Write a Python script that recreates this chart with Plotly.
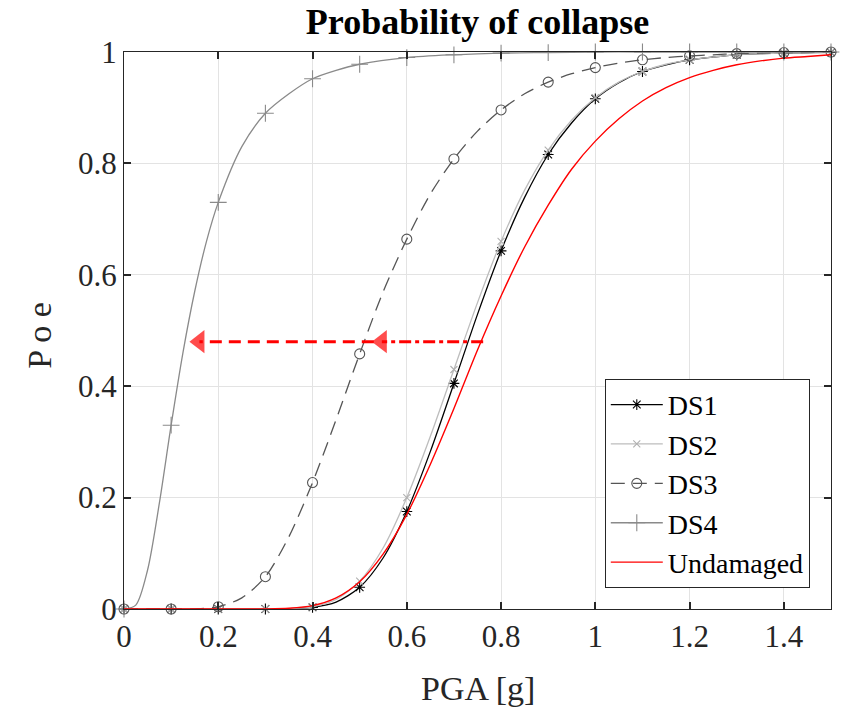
import plotly.graph_objects as go

# ---------------- data ----------------
pga_fine = [0.0, 0.05, 0.1, 0.15, 0.2, 0.25, 0.3, 0.35, 0.4, 0.45, 0.5, 0.55, 0.6, 0.65,
            0.7, 0.75, 0.8, 0.85, 0.9, 0.95, 1.0, 1.05, 1.1, 1.15, 1.2, 1.25, 1.3, 1.35,
            1.4, 1.45, 1.5]

ds1_fine = [0, 0, 0, 0, 0, 0, 0, 0.0004, 0.003, 0.0125, 0.039, 0.092, 0.175, 0.283,
            0.405, 0.529, 0.643, 0.739, 0.816, 0.873, 0.916, 0.945, 0.965, 0.977, 0.986,
            0.991, 0.995, 0.997, 0.998, 0.999, 0.9993]
ds2_fine = [0, 0, 0, 0, 0, 0, 0, 0.0008, 0.004, 0.017, 0.05, 0.11, 0.2, 0.31,
            0.43, 0.55, 0.66, 0.752, 0.824, 0.878, 0.918, 0.946, 0.965, 0.978, 0.986,
            0.991, 0.995, 0.997, 0.998, 0.999, 0.9993]
ds3_fine = [0, 0, 0, 0.0003, 0.004, 0.02, 0.058, 0.13, 0.227, 0.34, 0.458, 0.57, 0.664,
            0.745, 0.808, 0.858, 0.896, 0.925, 0.946, 0.961, 0.972, 0.98, 0.986, 0.99,
            0.993, 0.995, 0.997, 0.998, 0.999, 0.999, 1.0]
undam_fine = [0, 0, 0, 0, 0, 0, 0.0001, 0.0013, 0.006, 0.02, 0.049, 0.099, 0.17, 0.26,
              0.36, 0.465, 0.562, 0.65, 0.725, 0.79, 0.84, 0.88, 0.912, 0.936, 0.954,
              0.967, 0.977, 0.984, 0.989, 0.992, 0.995]

pga_ds4 = [0.0, 0.025, 0.05, 0.075, 0.1, 0.125, 0.15, 0.175, 0.2, 0.25, 0.3, 0.35, 0.4,
           0.45, 0.5, 0.6, 0.7, 0.8, 0.9, 1.0, 1.1, 1.2, 1.3, 1.4, 1.5]
ds4_fine = [0, 0.007, 0.07, 0.19, 0.33, 0.46, 0.57, 0.66, 0.73, 0.83, 0.89, 0.925, 0.952,
            0.967, 0.978, 0.99, 0.995, 0.998, 0.999, 1.0, 1.0, 1.0, 1.0, 1.0, 1.0]

# marker values at every 0.1 g
pga_mk = [0.0, 0.1, 0.2, 0.3, 0.4, 0.5, 0.6, 0.7, 0.8, 0.9, 1.0, 1.1, 1.2, 1.3, 1.4, 1.5]
ds1_mk = [0, 0, 0, 0, 0.003, 0.039, 0.175, 0.405, 0.643, 0.816, 0.916, 0.965, 0.986, 0.995, 0.998, 0.9993]
ds2_mk = [0, 0, 0, 0, 0.004, 0.05, 0.2, 0.43, 0.66, 0.824, 0.918, 0.965, 0.986, 0.995, 0.998, 0.9993]
ds3_mk = [0, 0, 0.004, 0.058, 0.227, 0.458, 0.664, 0.808, 0.896, 0.946, 0.972, 0.986, 0.993, 0.997, 0.999, 1.0]
ds4_mk = [0, 0.33, 0.73, 0.89, 0.952, 0.978, 0.99, 0.995, 0.998, 0.999, 1.0, 1.0, 1.0, 1.0, 1.0, 1.0]

# arrows (annotation)
arrow_y = 0.48
arrow1_x = [0.762, 0.547]   # dash-dot arrow (tail, head centre)
arrow2_x = [0.53, 0.16]     # dashed arrow (tail, head centre)

x_ticks = [0, 0.2, 0.4, 0.6, 0.8, 1.0, 1.2, 1.4]
x_ticktext = ["0", "0.2", "0.4", "0.6", "0.8", "1", "1.2", "1.4"]
y_ticks = [0, 0.2, 0.4, 0.6, 0.8, 1.0]
y_ticktext = ["0", "0.2", "0.4", "0.6", "0.8", "1"]

FONT = "Liberation Serif"

series = [
    dict(name="DS1", x=pga_fine, y=ds1_fine, ym=ds1_mk, color="#000000", width=1.3,
         dash="solid", symbol="asterisk-open", msize=9, mcolor="#000000"),
    dict(name="DS2", x=pga_fine, y=ds2_fine, ym=ds2_mk, color="#bdbdbd", width=1.3,
         dash="solid", symbol="x-thin-open", msize=7, mcolor="#b0b0b0"),
    dict(name="DS3", x=pga_fine, y=ds3_fine, ym=ds3_mk, color="#555555", width=1.3,
         dash="14px,8px", symbol="circle-open", msize=10, mcolor="#555555"),
    dict(name="DS4", x=pga_ds4, y=ds4_fine, ym=ds4_mk, color="#8a8a8a", width=1.3,
         dash="solid", symbol="cross-thin-open", msize=12, mcolor="#8a8a8a"),
]

fig = go.Figure()

for s in series:
    fig.add_trace(go.Scatter(x=s["x"], y=s["y"], mode="lines", showlegend=False,
                             line=dict(color=s["color"], width=s["width"], dash=s["dash"],
                                       shape="spline", smoothing=0.8),
                             hoverinfo="skip"))
    fig.add_trace(go.Scatter(x=pga_mk, y=s["ym"], mode="markers", showlegend=False,
                             cliponaxis=False,
                             marker=dict(symbol=s["symbol"], size=s["msize"],
                                         line=dict(color=s["mcolor"], width=1.1),
                                         color=s["mcolor"])))

fig.add_trace(go.Scatter(x=pga_fine, y=undam_fine, mode="lines", showlegend=False,
                         line=dict(color="#ff0000", width=1.4, shape="spline", smoothing=0.8)))

# legend entries
for s in series:
    fig.add_trace(go.Scatter(x=[None], y=[None], mode="lines+markers", name=s["name"],
                             line=dict(color=s["color"], width=1.3, dash=s["dash"]),
                             marker=dict(symbol=s["symbol"], size=s["msize"],
                                         line=dict(color=s["mcolor"], width=1.1),
                                         color=s["mcolor"])))
fig.add_trace(go.Scatter(x=[None], y=[None], mode="lines", name="Undamaged",
                         line=dict(color="#ff0000", width=1.4)))

# arrows
fig.add_trace(go.Scatter(x=arrow2_x, y=[arrow_y, arrow_y], mode="lines+markers",
                         showlegend=False,
                         line=dict(color="#ff0000", width=3, dash="12px,7px"),
                         marker=dict(symbol="triangle-left", size=[0, 20], color="#ff0000",
                                     line=dict(width=0))))
fig.add_trace(go.Scatter(x=arrow1_x, y=[arrow_y, arrow_y], mode="lines+markers",
                         showlegend=False,
                         line=dict(color="#ff0000", width=3, dash="12px,4px,4px,4px"),
                         marker=dict(symbol="triangle-left", size=[0, 20], color="#ff0000",
                                     line=dict(width=0))))

axis_common = dict(showline=True, linecolor="#262626", linewidth=1, mirror="ticks",
                   ticks="inside", ticklen=7, tickwidth=1.5, tickcolor="#262626",
                   showgrid=True, gridcolor="#e3e3e3", gridwidth=1, zeroline=False,
                   tickfont=dict(family=FONT, size=31, color="#262626"))

fig.update_xaxes(range=[0, 1.5], tickvals=x_ticks, ticktext=x_ticktext, **axis_common)
fig.update_yaxes(range=[0, 1], tickvals=y_ticks, ticktext=y_ticktext, **axis_common)

fig.update_layout(
    width=846, height=708,
    margin=dict(l=124, r=15, t=52, b=99),
    paper_bgcolor="white", plot_bgcolor="white",
    font=dict(family=FONT, color="#262626"),
    title=dict(text="<b>Probability of collapse</b>", x=(124 + 831) / 2 / 846, xanchor="center",
               y=1 - 21 / 708, yanchor="middle", yref="container",
               font=dict(family=FONT, size=36, color="#000000")),
    legend=dict(x=0.970, y=0.038, xanchor="right", yanchor="bottom",
                bgcolor="white", bordercolor="#262626", borderwidth=1,
                font=dict(family=FONT, size=28, color="#000000"),
                tracegroupgap=0, itemwidth=52),
    annotations=[
        dict(text="PGA [g]", x=0.5, y=-0.142, xref="paper", yref="paper",
             showarrow=False, font=dict(family=FONT, size=34, color="#262626"),
             xanchor="center", yanchor="middle"),
        dict(text="P o e", x=-0.119, y=0.492, xref="paper", yref="paper", textangle=-90,
             showarrow=False, font=dict(family=FONT, size=34, color="#262626"),
             xanchor="center", yanchor="middle"),
    ],
)

fig.write_html("out.html")
